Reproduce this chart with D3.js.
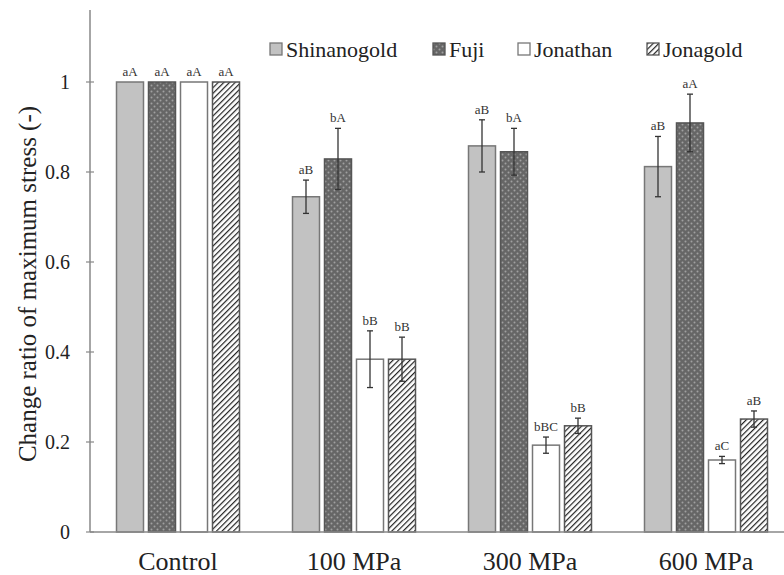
<!DOCTYPE html>
<html>
<head>
<meta charset="utf-8">
<script src="https://cdn.jsdelivr.net/npm/d3@7"></script>
<style>
  html, body { margin: 0; padding: 0; background: #fff; }
  svg { display: block; }
</style>
</head>
<body>
<svg id="chart" width="784" height="575"></svg>
<script>
// Treatments along the x axis
const categories = ["Control", "100 MPa", "300 MPa", "600 MPa"];
// Apple cultivars (one bar each per treatment)
const cultivars = ["Shinanogold", "Fuji", "Jonathan", "Jonagold"];

// Change ratio of maximum stress, per cultivar, per treatment
const shinanogold = [1.0, 0.745, 0.858, 0.812];
const fuji        = [1.0, 0.829, 0.845, 0.909];
const jonathan    = [1.0, 0.384, 0.193, 0.160];
const jonagold    = [1.0, 0.384, 0.236, 0.251];

// Standard deviations
const shinanogoldErr = [0, 0.037, 0.058, 0.067];
const fujiErr        = [0, 0.068, 0.052, 0.064];
const jonathanErr    = [0, 0.063, 0.018, 0.008];
const jonagoldErr    = [0, 0.049, 0.017, 0.018];

// Significance letters
const shinanogoldSig = ["aA", "aB", "aB", "aB"];
const fujiSig        = ["aA", "bA", "bA", "aA"];
const jonathanSig    = ["aA", "bB", "bBC", "aC"];
const jonagoldSig    = ["aA", "bB", "bB", "aB"];

const yTicks = [0, 0.2, 0.4, 0.6, 0.8, 1];

const values = [shinanogold, fuji, jonathan, jonagold];
const errors = [shinanogoldErr, fujiErr, jonathanErr, jonagoldErr];
const sigs   = [shinanogoldSig, fujiSig, jonathanSig, jonagoldSig];

const SERIF = "'Liberation Serif', 'Times New Roman', Times, serif";

const svg = d3.select("#chart");
const defs = svg.append("defs");

// Fuji: dark grey with a light dotted lattice
const pf = defs.append("pattern").attr("id", "pat-fuji")
  .attr("patternUnits", "userSpaceOnUse").attr("width", 6).attr("height", 6);
pf.append("rect").attr("width", 6).attr("height", 6).attr("fill", "#666");
pf.append("circle").attr("cx", 1.5).attr("cy", 1.5).attr("r", 1).attr("fill", "#a0a0a0");
pf.append("circle").attr("cx", 4.5).attr("cy", 4.5).attr("r", 1).attr("fill", "#a0a0a0");

// Jonagold: dense diagonal hatching
const pj = defs.append("pattern").attr("id", "pat-jonagold")
  .attr("patternUnits", "userSpaceOnUse").attr("width", 4).attr("height", 4)
  .attr("patternTransform", "rotate(45)");
pj.append("rect").attr("width", 4).attr("height", 4).attr("fill", "#fff");
pj.append("line").attr("x1", 0).attr("y1", 0).attr("x2", 0).attr("y2", 4)
  .attr("stroke", "#222").attr("stroke-width", 2.4);

const fills   = ["#c2c2c2", "url(#pat-fuji)", "#ffffff", "url(#pat-jonagold)"];
const strokes = ["#777", "#555", "#777", "#555"];

const x = d3.scaleBand().domain(categories).range([90, 794]).paddingInner(0);
const xs = d3.scaleBand().domain(cultivars).range([0, 123]).paddingInner(5 / 32).paddingOuter(0);
const y = d3.scaleLinear().domain([0, 1.16]).range([532, 10]);

const groupLeft = c => x(c) + x.bandwidth() / 2 - 61.5;

// Bars
cultivars.forEach((cv, si) => {
  const g = svg.append("g");
  categories.forEach((cat, ci) => {
    const v = values[si][ci];
    const bx = groupLeft(cat) + xs(cv);
    g.append("rect")
      .attr("x", bx).attr("y", y(v))
      .attr("width", xs.bandwidth()).attr("height", y(0) - y(v))
      .attr("fill", fills[si]).attr("stroke", strokes[si]).attr("stroke-width", 1.5);
  });
});

// Error bars and significance letters
cultivars.forEach((cv, si) => {
  categories.forEach((cat, ci) => {
    const v = values[si][ci], e = errors[si][ci];
    const cx = groupLeft(cat) + xs(cv) + xs.bandwidth() / 2;
    if (e > 0) {
      svg.append("line").attr("x1", cx).attr("x2", cx)
        .attr("y1", y(v - e)).attr("y2", y(v + e))
        .attr("stroke", "#333").attr("stroke-width", 1.3);
      [v - e, v + e].forEach(t => {
        svg.append("line").attr("x1", cx - 3).attr("x2", cx + 3)
          .attr("y1", y(t)).attr("y2", y(t))
          .attr("stroke", "#333").attr("stroke-width", 1.3);
      });
    }
    svg.append("text")
      .attr("x", cx).attr("y", y(v + e) - 6)
      .attr("text-anchor", "middle")
      .style("font-family", SERIF).style("font-size", "13px").style("fill", "#333")
      .text(sigs[si][ci]);
  });
});

// Y axis
const yAxis = svg.append("g").attr("transform", "translate(90,0)")
  .call(d3.axisLeft(y).tickValues(yTicks).tickSize(0).tickPadding(20)
    .tickFormat(d => d === 0 ? "0" : d === 1 ? "1" : d3.format(".1f")(d)));
yAxis.select(".domain").remove();
yAxis.attr("font-family", null).attr("font-size", null);
yAxis.selectAll("text")
  .style("font-family", SERIF).style("font-size", "20px").style("fill", "#222");
yTicks.forEach(t => {
  svg.append("line").attr("x1", 86).attr("x2", 94).attr("y1", y(t)).attr("y2", y(t))
    .attr("stroke", "#888").attr("stroke-width", 1.2);
});
svg.append("line").attr("x1", 90).attr("x2", 90).attr("y1", y(1.16)).attr("y2", y(0))
  .attr("stroke", "#888").attr("stroke-width", 1.5);

// X axis
svg.append("line").attr("x1", 90).attr("x2", 784).attr("y1", y(0)).attr("y2", y(0))
  .attr("stroke", "#888").attr("stroke-width", 1.5);
categories.forEach(cat => {
  svg.append("text")
    .attr("x", x(cat) + x.bandwidth() / 2).attr("y", 570)
    .attr("text-anchor", "middle")
    .style("font-family", SERIF).style("font-size", "26px").style("fill", "#222")
    .text(cat);
});

// Y axis title
svg.append("text")
  .attr("transform", "translate(36,284) rotate(-90)")
  .attr("text-anchor", "middle")
  .style("font-family", SERIF).style("font-size", "25px").style("fill", "#222")
  .text("Change ratio of maximum stress (-)");

// Legend
const legendX = [270, 433, 518, 647];
cultivars.forEach((cv, si) => {
  svg.append("rect").attr("x", legendX[si]).attr("y", 43).attr("width", 12).attr("height", 12)
    .attr("fill", fills[si]).attr("stroke", strokes[si]).attr("stroke-width", 1.3);
  svg.append("text").attr("x", legendX[si] + 16).attr("y", 57)
    .style("font-family", SERIF).style("font-size", "22px").style("fill", "#222")
    .text(cv);
});
</script>
</body>
</html>
